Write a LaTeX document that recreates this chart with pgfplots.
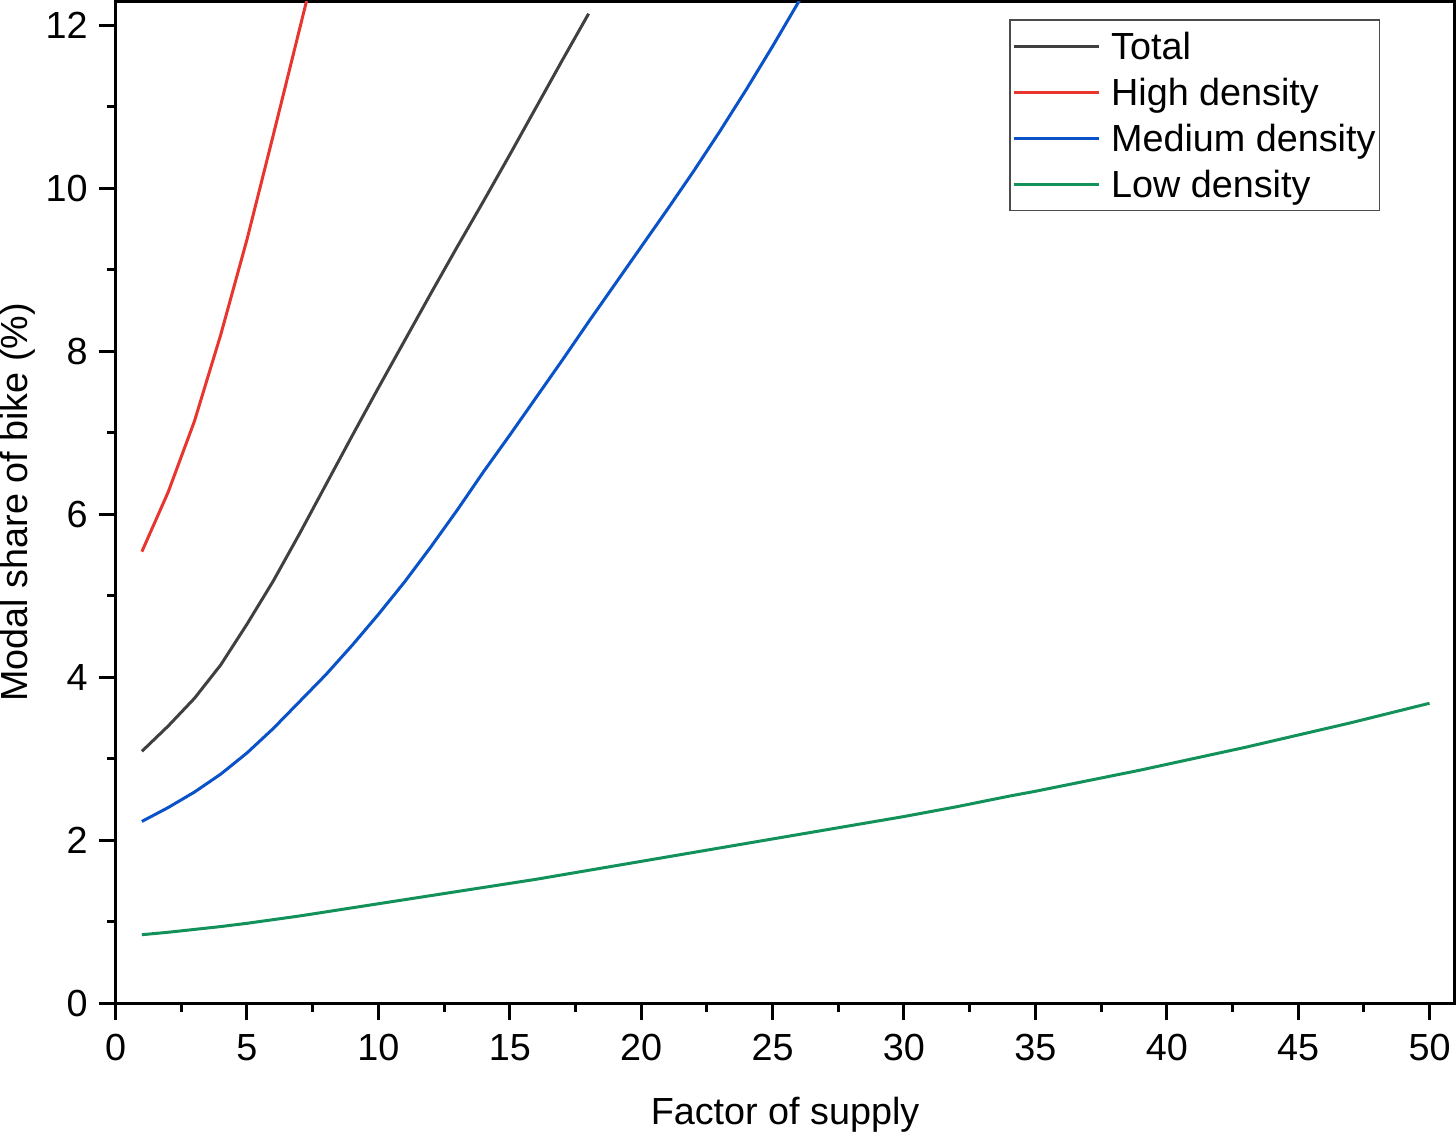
\documentclass[border=0pt]{standalone}
\usepackage{fontspec}
\setmainfont{Liberation Sans}
\usepackage{pgfplots}
\pgfplotsset{compat=1.18}
\definecolor{cTotal}{HTML}{404040}
\definecolor{cHigh}{HTML}{E8362F}
\definecolor{cMed}{HTML}{0A52C8}
\definecolor{cLow}{HTML}{12925A}
\newcommand{\chartfont}{\fontsize{11.3}{13.6}\selectfont}
\begin{document}
\chartfont
\begin{tikzpicture}
\begin{axis}[
  scale only axis, width=400.8pt, height=299.85pt,
  xmin=0, xmax=50.95, ymin=0, ymax=12.29,
  xtick={0,5,...,50}, ytick={0,2,...,12},
  minor x tick num=1, minor y tick num=1,
  tick align=outside, xtick pos=bottom, ytick pos=left,
  major tick length=5.1pt, minor tick length=2.5pt,
  tick style={black, line width=0.9pt},
  axis line style={line width=0.9pt},
  /pgf/number format/assume math mode=true,
  ticklabel style={font=\chartfont},
  xticklabel style={anchor=base, inner sep=0pt, yshift=-12.0pt},
  yticklabel style={anchor=east, inner sep=0pt, xshift=-3.1pt},
  xlabel={Factor of supply}, ylabel={Modal share of bike (\%)},
  label style={font=\chartfont},
  xlabel style={at={(rel axis cs:0.5,-0.1210)}, anchor=base, inner sep=0pt},
  ylabel style={at={(rel axis cs:-0.0659,0.5)}, anchor=base, inner sep=0pt},
  legend style={at={(0.9446,0.9825)}, anchor=north east, draw=black!70, line width=0.5pt,
    inner xsep=0.6pt, inner ysep=0.95pt, row sep=0pt, font=\chartfont,
    nodes={inner xsep=0.6pt, inner ysep=1pt, text height=9.85pt, text depth=1.95pt}},
  legend cell align=left,
  legend image code/.code={\draw[#1] (0pt,0pt) -- (25.5pt,0pt); \path[draw=none] (0pt,0pt) -- (28.6pt,0pt);},
]
\addplot[cTotal, line width=0.9pt] coordinates {
(1,3.09)(2,3.40)(3,3.74)(4,4.15)(5,4.65)(6,5.18)(7,5.76)(8,6.36)(9,6.96)(10,7.55)
(11,8.13)(12,8.71)(13,9.28)(14,9.84)(15,10.41)(16,10.99)(17,11.57)(18,12.14)};
\addlegendentry{Total}
\addplot[cHigh, line width=0.9pt] coordinates {
(1,5.54)(2,6.27)(3,7.14)(4,8.20)(5,9.37)(6,10.65)(7,11.95)(8,13.25)};
\addlegendentry{High density}
\addplot[cMed, line width=0.9pt] coordinates {
(1,2.23)(2,2.40)(3,2.59)(4,2.81)(5,3.07)(6,3.37)(7,3.70)(8,4.03)(9,4.39)(10,4.77)
(11,5.17)(12,5.60)(13,6.05)(14,6.52)(15,6.97)(16,7.43)(17,7.89)(18,8.36)(19,8.82)(20,9.28)
(21,9.74)(22,10.21)(23,10.70)(24,11.21)(25,11.74)(26,12.29)(27,12.85)};
\addlegendentry{Medium density}
\addplot[cLow, line width=0.9pt] coordinates {
(1,0.84)(2,0.87)(3,0.905)(4,0.94)(5,0.98)(6,1.025)(7,1.07)(8,1.12)(9,1.17)(10,1.22)
(11,1.27)(12,1.32)(13,1.37)(14,1.42)(15,1.47)(16,1.52)(17,1.575)(18,1.63)(19,1.685)(20,1.74)
(21,1.795)(22,1.85)(23,1.905)(24,1.96)(25,2.015)(26,2.07)(27,2.125)(28,2.18)(29,2.235)(30,2.29)
(31,2.35)(32,2.41)(33,2.475)(34,2.54)(35,2.60)(36,2.665)(37,2.73)(38,2.795)(39,2.86)(40,2.93)
(41,3.0)(42,3.07)(43,3.14)(44,3.215)(45,3.29)(46,3.365)(47,3.44)(48,3.52)(49,3.60)(50,3.68)};
\addlegendentry{Low density}
\end{axis}
\end{tikzpicture}
\end{document}
